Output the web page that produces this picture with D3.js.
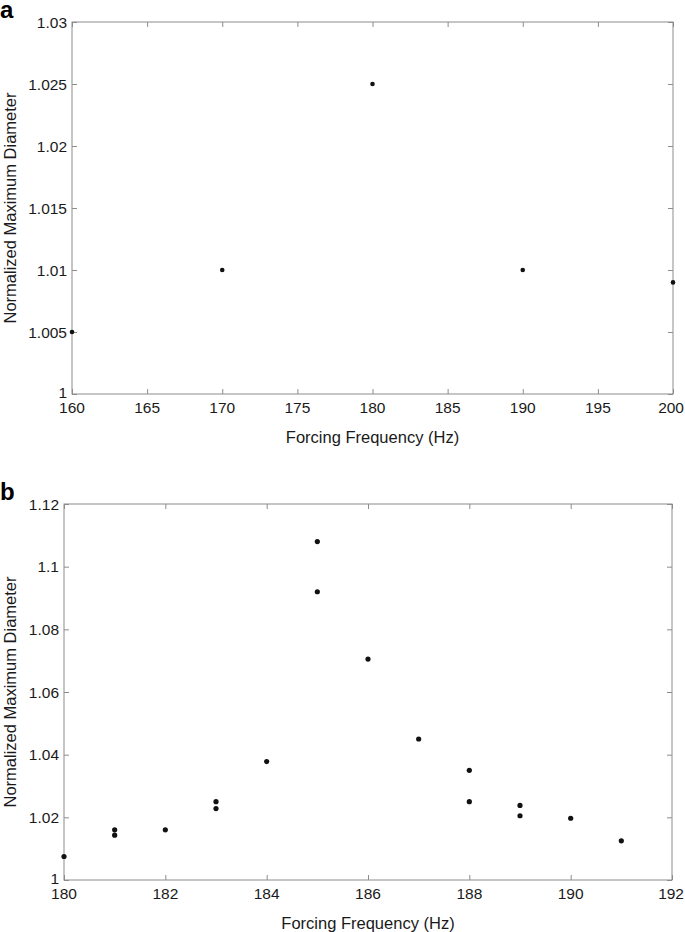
<!DOCTYPE html>
<html>
<head>
<meta charset="utf-8">
<script src="https://cdn.jsdelivr.net/npm/d3@7"></script>
<style>
  body { margin: 0; background: #fff; }
  svg { display: block; font-family: "Liberation Sans", Arial, sans-serif; }
</style>
</head>
<body>
<svg id="chart" width="685" height="932"></svg>
<script>
// panel a data
const freqA = [160, 170, 180, 190, 200];
const diamA = [1.005, 1.010, 1.025, 1.010, 1.009];
const xTicksA = [160, 165, 170, 175, 180, 185, 190, 195, 200];
const yTicksA = [1, 1.005, 1.01, 1.015, 1.02, 1.025, 1.03];

// panel b data
const freqB = [180, 181, 181, 182, 183, 183, 184, 185, 185, 186, 187, 188, 188, 189, 189, 190, 191];
const diamB = [1.0075, 1.016, 1.0143, 1.016, 1.025, 1.0228, 1.0378, 1.108, 1.092, 1.0705, 1.045, 1.035, 1.025, 1.0238, 1.0205, 1.0197, 1.0125];
const xTicksB = [180, 182, 184, 186, 188, 190, 192];
const yTicksB = [1, 1.02, 1.04, 1.06, 1.08, 1.1, 1.12];

const svg = d3.select("#chart");
const W = 685;
const axisColor = "#8c8c8c";
const textColor = "#1a1a1a";
const tickFs = 15.5;
const titleFs = 16.5;

function panel(opts) {
    let x = d3.scaleLinear().domain(opts.xDomain).range([opts.left, opts.right]);
    let y = d3.scaleLinear().domain(opts.yDomain).range([opts.bottom, opts.top]);
    let g = svg.append("g");

    // box
    g.append("rect")
        .attr("x", opts.left).attr("y", opts.top)
        .attr("width", opts.right - opts.left).attr("height", opts.bottom - opts.top)
        .attr("fill", "none").attr("stroke", axisColor).attr("stroke-width", 1);

    // inward ticks on all four sides
    const tl = 5;
    const styleAxis = sel => {
        sel.select(".domain").remove();
        sel.selectAll(".tick line").attr("stroke", axisColor);
        sel.selectAll(".tick text").remove();
    };
    g.append("g").attr("transform", `translate(0,${opts.bottom})`)
        .call(d3.axisTop(x).tickValues(opts.xTicks).tickSize(tl)).call(styleAxis);
    g.append("g").attr("transform", `translate(0,${opts.top})`)
        .call(d3.axisBottom(x).tickValues(opts.xTicks).tickSize(tl)).call(styleAxis);
    g.append("g").attr("transform", `translate(${opts.left},0)`)
        .call(d3.axisRight(y).tickValues(opts.yTicks).tickSize(tl)).call(styleAxis);
    g.append("g").attr("transform", `translate(${opts.right},0)`)
        .call(d3.axisLeft(y).tickValues(opts.yTicks).tickSize(tl)).call(styleAxis);

    // tick labels (last x label kept inside the page)
    g.selectAll(".xl").data(opts.xTicks).enter().append("text")
        .attr("x", d => x(d)).attr("y", opts.bottom + 19)
        .attr("text-anchor", "middle").attr("font-size", tickFs).attr("fill", textColor)
        .text(d => d)
        .each(function(d) {
            let w = this.getComputedTextLength();
            if (x(d) + w / 2 > W - 1) d3.select(this).attr("x", W - 1 - w / 2);
        });
    g.selectAll(".yl").data(opts.yTicks).enter().append("text")
        .attr("x", opts.left - 5).attr("y", d => y(d) + (d === opts.yDomain[0] ? 4 : 5.5))
        .attr("text-anchor", "end").attr("font-size", tickFs).attr("fill", textColor)
        .text(d => d);

    // axis titles
    g.append("text")
        .attr("x", (opts.left + opts.right) / 2).attr("y", opts.bottom + 49)
        .attr("text-anchor", "middle").attr("font-size", titleFs).attr("fill", textColor)
        .text("Forcing Frequency (Hz)");
    g.append("text")
        .attr("transform", `translate(16,${(opts.top + opts.bottom) / 2}) rotate(-90)`)
        .attr("text-anchor", "middle").attr("font-size", titleFs).attr("fill", textColor)
        .text("Normalized Maximum Diameter");

    // panel letter
    g.append("text")
        .attr("x", 0).attr("y", opts.top - 4)
        .attr("font-size", 24).attr("font-weight", "bold").attr("fill", "#000")
        .text(opts.letter);

    // points
    g.selectAll("circle").data(opts.xs).enter().append("circle")
        .attr("cx", d => x(d))
        .attr("cy", (d, i) => y(opts.ys[i]))
        .attr("r", opts.r)
        .attr("fill", "#111");
}

panel({
    letter: "a", xs: freqA, ys: diamA,
    xDomain: [160, 200], yDomain: [1, 1.03],
    xTicks: xTicksA, yTicks: yTicksA,
    left: 72, right: 673, top: 22, bottom: 394, r: 2.3
});

panel({
    letter: "b", xs: freqB, ys: diamB,
    xDomain: [180, 192], yDomain: [1, 1.12],
    xTicks: xTicksB, yTicks: yTicksB,
    left: 64, right: 672, top: 504, bottom: 880, r: 2.6
});
</script>
</body>
</html>
